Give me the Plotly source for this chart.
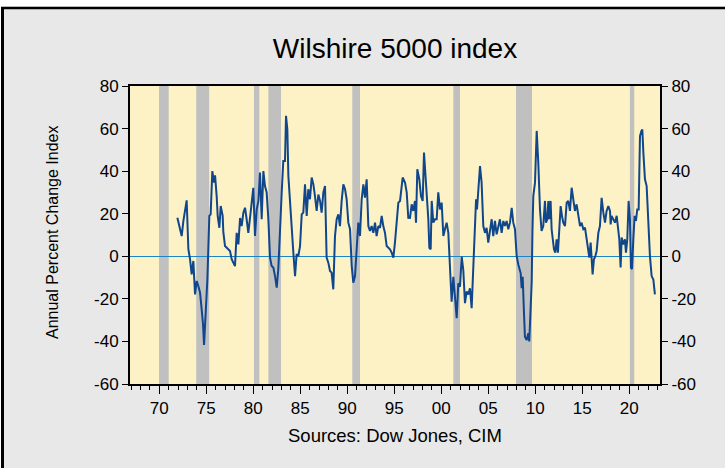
import plotly.graph_objects as go

# ---------------- data ----------------
years = [
    1971.92, 1972.13, 1972.38, 1972.56, 1972.73, 1972.91, 1973.09, 1973.27, 1973.44, 1973.62, 1973.80, 1973.98,
    1974.15, 1974.33, 1974.51, 1974.65, 1974.76, 1974.86, 1974.97, 1975.11, 1975.21, 1975.32, 1975.46, 1975.64,
    1975.82, 1975.93, 1976.10, 1976.21, 1976.39, 1976.53, 1976.74, 1976.81, 1976.99, 1977.17, 1977.34, 1977.52,
    1977.70, 1977.88, 1978.05, 1978.23, 1978.41, 1978.59, 1978.76, 1978.94, 1979.12, 1979.29, 1979.47, 1979.65,
    1979.83, 1980.00, 1980.18, 1980.36, 1980.54, 1980.71, 1980.89, 1981.07, 1981.24, 1981.42, 1981.60, 1981.78,
    1981.95, 1982.13, 1982.31, 1982.49, 1982.66, 1982.84, 1983.02, 1983.19, 1983.37, 1983.48, 1983.62, 1983.73,
    1983.90, 1984.08, 1984.26, 1984.44, 1984.61, 1984.79, 1984.97, 1985.15, 1985.32, 1985.50, 1985.68, 1985.85,
    1986.03, 1986.21, 1986.39, 1986.56, 1986.74, 1986.92, 1987.10, 1987.27, 1987.45, 1987.63, 1987.80, 1987.98,
    1988.16, 1988.33, 1988.51, 1988.69, 1988.87, 1989.05, 1989.22, 1989.40, 1989.58, 1989.76, 1989.93, 1990.11,
    1990.29, 1990.47, 1990.64, 1990.82, 1991.00, 1991.17, 1991.35, 1991.53, 1991.71, 1991.88, 1992.06, 1992.24,
    1992.41, 1992.59, 1992.77, 1992.95, 1993.12, 1993.30, 1993.48, 1993.66, 1993.83, 1994.01, 1994.19, 1994.36,
    1994.54, 1994.72, 1994.90, 1995.07, 1995.25, 1995.43, 1995.61, 1995.78, 1995.89, 1996.14, 1996.32, 1996.49,
    1996.67, 1996.85, 1997.02, 1997.20, 1997.31, 1997.45, 1997.66, 1997.84, 1998.02, 1998.16, 1998.27, 1998.44,
    1998.62, 1998.73, 1998.87, 1998.98, 1999.15, 1999.33, 1999.51, 1999.68, 1999.86, 2000.04, 2000.22, 2000.39,
    2000.57, 2000.75, 2000.85, 2000.93, 2001.10, 2001.28, 2001.46, 2001.64, 2001.81, 2001.99, 2002.17, 2002.34,
    2002.52, 2002.70, 2002.87, 2003.05, 2003.23, 2003.34, 2003.48, 2003.59, 2003.70, 2003.80, 2003.94, 2004.12,
    2004.29, 2004.47, 2004.65, 2004.82, 2005.00, 2005.18, 2005.36, 2005.53, 2005.71, 2005.89, 2006.07, 2006.24,
    2006.42, 2006.60, 2006.78, 2006.95, 2007.13, 2007.31, 2007.49, 2007.66, 2007.84, 2008.02, 2008.20, 2008.45,
    2008.55, 2008.66, 2008.80, 2008.90, 2009.08, 2009.26, 2009.36, 2009.51, 2009.62, 2009.70, 2009.79, 2009.97,
    2010.15, 2010.32, 2010.50, 2010.67, 2010.85, 2011.03, 2011.14, 2011.28, 2011.39, 2011.49, 2011.63, 2011.74,
    2011.85, 2011.99, 2012.13, 2012.27, 2012.41, 2012.56, 2012.70, 2012.84, 2012.98, 2013.16, 2013.34, 2013.51,
    2013.69, 2013.87, 2014.05, 2014.22, 2014.40, 2014.58, 2014.76, 2014.93, 2015.11, 2015.29, 2015.46, 2015.64,
    2015.75, 2015.89, 2016.00, 2016.10, 2016.24, 2016.39, 2016.53, 2016.71, 2016.88, 2017.06, 2017.24, 2017.42,
    2017.59, 2017.77, 2017.95, 2018.02, 2018.12, 2018.30, 2018.48, 2018.66, 2018.76, 2018.94, 2019.08, 2019.19,
    2019.36, 2019.54, 2019.65, 2019.79, 2019.93, 2020.07, 2020.18, 2020.29, 2020.43, 2020.57, 2020.71, 2020.85,
    2021.00, 2021.14, 2021.29, 2021.39, 2021.50, 2021.67, 2021.85, 2022.03, 2022.20, 2022.38, 2022.56, 2022.73,
]
annual_pct_change = [
    18.1, 14.0, 9.5, 16.6, 20.5, 26.3, 3.3, -1.4, -8.5, -2.2, -17.9, -11.6,
    -14.0, -17.0, -25.2, -32.0, -41.7, -34.0, -26.6, -11.1, 3.0, 19.0, 19.7, 40.0,
    34.6, 38.0, 28.3, 19.0, 13.4, 23.6, 19.0, 11.3, 4.8, 4.0, 3.3, 2.5,
    -1.4, -3.0, -4.6, 11.0, 5.6, 18.0, 14.2, 20.5, 22.8, 17.4, 11.0, 18.0,
    25.0, 32.2, 9.5, 22.0, 26.0, 39.3, 17.4, 40.0, 33.0, 30.0, 17.4, -0.6,
    -4.6, -5.3, -9.3, -14.7, -6.0, 15.8, 30.0, 44.8, 44.8, 66.0, 59.6, 37.7,
    25.2, 9.5, 1.7, -9.3, 1.0, 0.1, 4.8, 19.7, 20.5, 33.8, 19.0, 31.5,
    26.8, 37.0, 33.8, 28.3, 21.3, 29.0, 26.0, 20.5, 30.0, 33.0, -0.6, -3.0,
    -6.9, -7.7, -15.5, 9.5, 17.4, 19.7, 14.2, 26.0, 33.8, 31.5, 26.8, 15.8,
    12.7, -4.6, -12.4, -9.3, 3.3, 15.8, 9.5, 26.8, 33.8, 27.5, 36.2, 14.2,
    11.9, 14.2, 11.0, 15.8, 9.5, 14.2, 13.4, 19.0, 14.2, 11.0, 4.8, 4.0,
    3.3, 1.7, -0.6, 6.4, 17.4, 25.2, 26.0, 33.0, 37.0, 34.6, 30.0, 18.1,
    18.0, 24.4, 21.3, 26.0, 15.8, 40.9, 36.2, 28.3, 26.0, 48.7, 40.9, 31.5,
    17.4, 4.0, 3.3, 26.0, 15.8, 17.4, 17.4, 30.0, 22.0, 25.2, 9.5, 12.7,
    15.8, 11.0, -0.2, -8.0, -21.3, -9.6, -22.0, -29.1, -12.7, -14.3, -0.2, -6.4,
    -22.0, -16.5, -18.0, -15.0, -24.4, -11.0, 3.0, 14.0, 26.8, 22.0, 33.0, 42.4,
    34.6, 14.2, 11.0, 13.4, 6.4, 12.7, 17.4, 9.5, 16.6, 10.3, 15.0, 17.4,
    11.0, 16.6, 14.2, 16.6, 12.7, 15.8, 22.8, 15.8, 12.7, 0.1, -4.0, -8.0,
    -15.0, -9.6, -26.8, -37.8, -39.4, -36.2, -40.0, -26.6, -12.0, 12.0, 28.3, 34.6,
    58.9, 44.0, 22.0, 11.9, 14.2, 26.0, 15.8, 17.4, 26.0, 17.4, 26.0, 12.7,
    7.2, 3.3, 1.7, 8.0, 1.7, 12.7, 23.6, 19.0, 15.8, 14.2, 25.2, 26.0,
    21.3, 32.2, 26.0, 21.3, 24.4, 19.7, 14.2, 15.8, 12.7, 13.4, 8.0, 3.3,
    -0.6, 6.4, -5.3, -8.5, -1.4, 0.1, 2.5, 11.0, 14.2, 27.5, 20.5, 15.8,
    21.3, 23.6, 21.3, 15.0, 19.0, 17.4, 15.8, 19.0, 14.2, 8.0, -5.3, 8.8,
    5.6, 8.0, 1.7, 8.0, 26.0, 17.4, -5.3, -6.0, 8.0, 19.0, 16.6, 22.0,
    22.0, 56.5, 58.9, 59.6, 48.7, 36.2, 33.0, 15.8, 0.1, -9.3, -10.9, -17.9,
]
assert len(years) == len(annual_pct_change)

recession_start = [1969.97, 1973.93, 1980.07, 1981.60, 1990.53, 2001.28, 2007.95, 2020.07]
recession_end = [1971.00, 1975.31, 1980.64, 1982.95, 1991.35, 2001.99, 2009.65, 2020.53]

tick_years = [1970, 1975, 1980, 1985, 1990, 1995, 2000, 2005, 2010, 2015, 2020]
tick_labels = ["70", "75", "80", "85", "90", "95", "00", "05", "10", "15", "20"]
minor_years = list(range(1967, 2024))

y_tick_values = [-60, -40, -20, 0, 20, 40, 60, 80]
y_tick_labels = ["-60", "-40", "-20", "0", "20", "40", "60", "80"]

# ---------------- layout helpers ----------------
W, H = 725, 468
L, R, T, B = 130, 660, 86, 384          # plot area in pixels


def px_x(px):
    return (px - L) / (R - L)


def px_y(py):
    return (B - py) / (B - T)


FONT = "Liberation Sans, Arial, sans-serif"

fig = go.Figure()
fig.add_trace(go.Scatter(
    x=years, y=annual_pct_change, mode="lines",
    line=dict(color="#10468C", width=2), showlegend=False, hoverinfo="skip"))
fig.add_trace(go.Scatter(
    x=[years[0]], y=[None], yaxis="y2", mode="lines", showlegend=False, hoverinfo="skip"))

shapes = []
for s, e in zip(recession_start, recession_end):
    shapes.append(dict(type="rect", xref="x", yref="paper", x0=s, x1=e, y0=0, y1=1,
                       fillcolor="#C0C0C0", line=dict(width=0), layer="below"))
# white strips outside the outer frame
shapes.append(dict(type="rect", xref="paper", yref="paper",
                   x0=px_x(-10), x1=px_x(1.2), y0=px_y(500), y1=px_y(-10),
                   fillcolor="white", line=dict(width=0), layer="above"))
shapes.append(dict(type="rect", xref="paper", yref="paper",
                   x0=px_x(-10), x1=px_x(740), y0=px_y(6.5), y1=px_y(-10),
                   fillcolor="white", line=dict(width=0), layer="above"))
# outer frame lines (left and top)
shapes.append(dict(type="line", xref="paper", yref="paper",
                   x0=px_x(2.5), x1=px_x(2.5), y0=px_y(500), y1=px_y(7),
                   line=dict(color="black", width=3), layer="above"))
shapes.append(dict(type="line", xref="paper", yref="paper",
                   x0=px_x(1), x1=px_x(740), y0=px_y(8), y1=px_y(8),
                   line=dict(color="black", width=2.5), layer="above"))

axis_font = dict(family=FONT, size=17, color="black")

yaxis_common = dict(range=[-60, 80], tickmode="array", tickvals=y_tick_values,
                    ticktext=y_tick_labels, ticks="outside", ticklen=6, tickwidth=1.2,
                    tickcolor="black", tickfont=axis_font, showgrid=False,
                    showline=True, linecolor="black", linewidth=2)

fig.update_layout(
    width=W, height=H,
    margin=dict(l=L, r=W - R, t=T, b=H - B, pad=0),
    paper_bgcolor="#E8E8E8",
    plot_bgcolor="#FCF2C6",
    shapes=shapes,
    title=dict(text="Wilshire 5000 index", x=395 / W, xanchor="center",
               y=1 - 48 / H, yanchor="middle",
               font=dict(family=FONT, size=28, color="black")),
    xaxis=dict(range=[1966.88, 2023.27], tickmode="array", tickvals=tick_years,
               ticktext=tick_labels, ticks="outside", ticklen=8, tickwidth=1.2,
               tickcolor="black", tickfont=axis_font, showgrid=False, zeroline=False,
               showline=True, linecolor="black", linewidth=2, mirror=True,
               minor=dict(tickmode="array", tickvals=minor_years, ticks="outside",
                          ticklen=4, tickwidth=1.2, tickcolor="black", showgrid=False)),
    yaxis=dict(**yaxis_common, zeroline=True, zerolinecolor="#1A86C8", zerolinewidth=1.2),
    yaxis2=dict(**yaxis_common, overlaying="y", side="right", zeroline=False),
    annotations=[
        dict(text="Annual Percent Change Index", xref="paper", yref="paper",
             x=px_x(52), y=px_y(233), textangle=-90, showarrow=False,
             xanchor="center", yanchor="middle",
             font=dict(family=FONT, size=16, color="black")),
        dict(text="Sources: Dow Jones, CIM", xref="paper", yref="paper",
             x=px_x(395), y=px_y(435), showarrow=False,
             xanchor="center", yanchor="middle",
             font=dict(family=FONT, size=18.5, color="black")),
    ],
)

fig.write_html("out.html", config={"displayModeBar": False},
               post_script="document.body.style.margin='0px';document.body.style.overflow='hidden';")
